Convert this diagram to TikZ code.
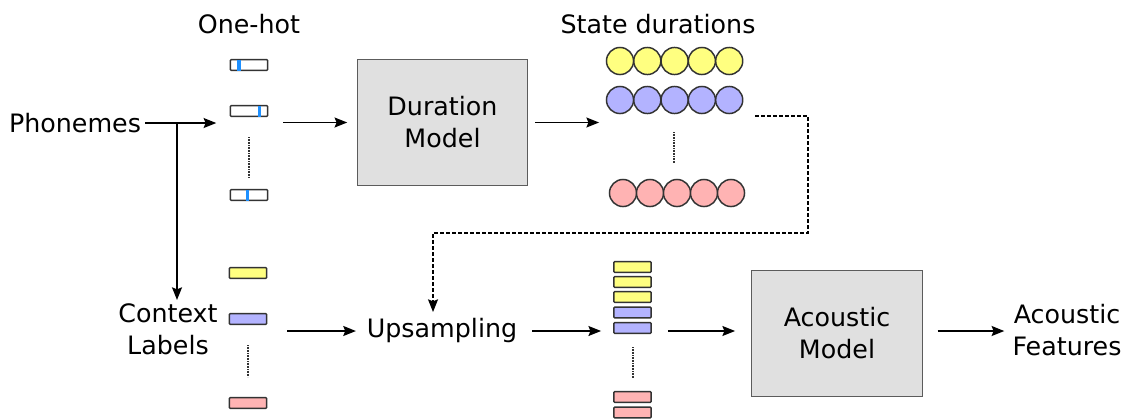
\documentclass[tikz,border=0pt]{standalone}
\usepackage{fontspec}
\setmainfont{DejaVu Sans}
\usetikzlibrary{arrows.meta}
\definecolor{dk}{HTML}{333333}
\definecolor{yel}{HTML}{FFFF80}
\definecolor{blu}{HTML}{B3B3FF}
\definecolor{pnk}{HTML}{FFB3B3}
\definecolor{hot}{HTML}{1E90FF}
\definecolor{gbox}{HTML}{E0E0E0}
\begin{document}
\begin{tikzpicture}[x=0.75pt,y=-0.75pt,
  font=\fontsize{19}{24}\selectfont,
  lbl/.style={inner sep=3pt, align=center},
  bar/.style={draw=dk, line width=1.1pt, rounded corners=0.8pt, minimum width=28pt, minimum height=8.2pt, inner sep=0pt},
  ohbox/.style={bar, fill=white},
  ball/.style={circle, draw=dk, line width=1.1pt, minimum size=20.3pt, inner sep=0pt},
  model/.style={draw=dk!80, line width=0.9pt, fill=gbox, align=center, minimum width=128pt, minimum height=94pt},
  arr/.style={line width=1pt, -{Stealth[length=9.5pt,width=7.5pt,inset=1.5pt]}},
  dotv/.style={line width=0.8pt, dk, dash pattern=on 0.6pt off 0.6pt},
  dsh/.style={line width=0.9pt, dash pattern=on 3pt off 1.5pt, -{Stealth[length=9.5pt,width=7.5pt,inset=1.5pt]}}]
\useasboundingbox (0,0) rectangle (1132,419);

% titles
\node[lbl] (onehot) at (249,24) {One-hot};
\node[lbl] (sdur) at (658,24) {State durations};

% left labels
\node[lbl] (phon) at (75,123) {Phonemes};
\node[lbl] (ctx) at (168,329) {Context\\Labels};

% one-hot boxes
\node[ohbox] (oh1) at (249,65) {};
\node[ohbox] (oh2) at (249,111) {};
\node[ohbox] (oh3) at (249,195) {};
\fill[hot] (237,60) rectangle (240.5,70.5);
\fill[hot] (257.5,106) rectangle (261,116.5);
\fill[hot] (245.5,190) rectangle (249,200.5);
\draw[dotv] (249,137) -- (249,178);

% context label boxes
\node[bar, fill=yel] (cy) at (248,273) {};
\node[bar, fill=blu] (cb) at (248,319) {};
\node[bar, fill=pnk] (cp) at (248,403) {};
\draw[dotv] (248,345) -- (248,377);

% duration model
\node[model] (dur) at (442.5,122.5) {Duration\\Model};

% state duration circles
\foreach \i in {1,...,5}{
  \node[ball, fill=yel] (y\i) at ({620+27.3*(\i-1)},61) {};
  \node[ball, fill=blu] (b\i) at ({620+27.3*(\i-1)},100) {};
  \node[ball, fill=pnk] (p\i) at ({623+27*(\i-1)},193) {};
}
\draw[dotv] (674,132) -- (674,163);

% upsampling
\node[lbl] (ups) at (442,331) {Upsampling};

% stacked frames
\node[bar, fill=yel] (s1) at (632.5,267) {};
\node[bar, fill=yel] (s2) at (632.5,282) {};
\node[bar, fill=yel] (s3) at (632.5,297) {};
\node[bar, fill=blu] (s4) at (632.5,312.5) {};
\node[bar, fill=blu] (s5) at (632.5,328) {};
\node[bar, fill=pnk] (s6) at (632.5,397) {};
\node[bar, fill=pnk] (s7) at (632.5,412.5) {};
\draw[dotv] (633,347) -- (633,378);

% acoustic model
\node[model] (ac) at (837,333.5) {Acoustic\\Model};
\node[lbl] (feat) at (1067,330) {Acoustic\\Features};

% connectors
\coordinate (br) at (177,123);
\coordinate (brend) at (177,300);
\draw[arr] (phon.east) -- ([xshift=-10pt]phon.east -| oh2.west);
\draw[arr] (br) -- (brend);
\draw[arr] ([xshift=11pt]dur.west -| oh2.east) -- ([xshift=-7pt]dur.west);
\draw[arr] ([xshift=5pt]dur.east) -- ([xshift=-5pt]dur.east -| b1.west);
\coordinate (c1) at (808,116);
\coordinate (c2) at (808,233);
\coordinate (c3) at (433,233);
\coordinate (c4) at (433,312);
\draw[dsh] ([xshift=9pt]c1 -| b5.east) -- (c1) -- (c2) -- (c3) -- (c4);
\draw[arr] ([xshift=15pt]ups.west -| cb.east) -- ([xshift=-5pt]ups.west);
\draw[arr] ([xshift=8pt]ups.east) -- ([xshift=-9pt]ups.east -| s5.west);
\draw[arr] ([xshift=12pt]ups.east -| s5.east) -- ([xshift=-12pt]ups.east -| ac.west);
\draw[arr] ([xshift=11pt]ups.east -| ac.east) -- ([xshift=-3pt]ups.east -| feat.west);
\end{tikzpicture}
\end{document}
